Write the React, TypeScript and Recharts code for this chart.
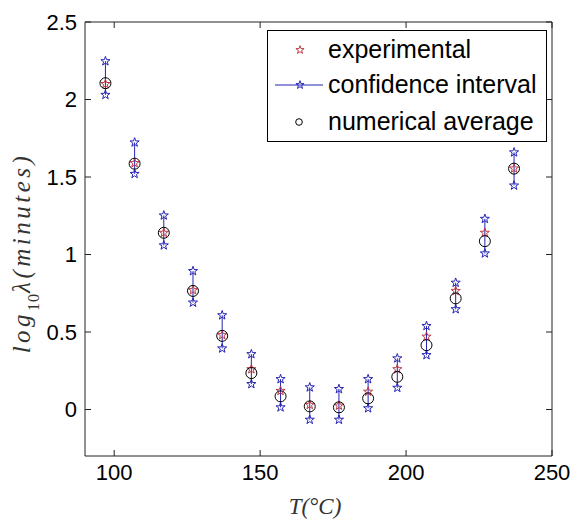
import React from 'react';
import { ComposedChart, Scatter, XAxis, YAxis, ErrorBar, Legend, Label } from 'recharts';

const temperatures = [97, 107, 117, 127, 137, 147, 157, 167, 177, 187, 197, 207, 217, 227, 237];
const experimental = [2.1, 1.59, 1.14, 0.77, 0.48, 0.26, 0.12, 0.03, 0.025, 0.115, 0.26, 0.47, 0.765, 1.14, 1.555];
const ciUpper = [2.247, 1.723, 1.252, 0.893, 0.608, 0.357, 0.196, 0.143, 0.132, 0.196, 0.33, 0.539, 0.818, 1.23, 1.659];
const ciLower = [2.03, 1.52, 1.059, 0.69, 0.394, 0.164, 0.014, -0.066, -0.066, 0.008, 0.14, 0.351, 0.647, 1.007, 1.445];
const numericalAverage = [2.105, 1.586, 1.14, 0.765, 0.475, 0.235, 0.085, 0.02, 0.014, 0.072, 0.211, 0.415, 0.717, 1.086, 1.554];
const xTicks = [100, 150, 200, 250];
const yTicks = [0, 0.5, 1, 1.5, 2, 2.5];
const legendLabels = ['experimental', 'confidence interval', 'numerical average'];

const BLUE = '#2424b4';
const RED = '#c03a44';
const AXIS = '#222';

const expData = temperatures.map((x, i) => ({
  x,
  y: experimental[i],
  err: [experimental[i] - ciLower[i], ciUpper[i] - experimental[i]],
}));
const upperData = temperatures.map((x, i) => ({ x, y: ciUpper[i] }));
const lowerData = temperatures.map((x, i) => ({ x, y: ciLower[i] }));
const avgData = temperatures.map((x, i) => ({ x, y: numericalAverage[i] }));

function starPath(cx: number, cy: number, R: number, r: number) {
  let d = '';
  for (let i = 0; i < 10; i++) {
    const a = -Math.PI / 2 + (i * Math.PI) / 5;
    const rad = i % 2 === 0 ? R : r;
    d += (i === 0 ? 'M' : 'L') + (cx + rad * Math.cos(a)).toFixed(2) + ',' + (cy + rad * Math.sin(a)).toFixed(2);
  }
  return d + 'Z';
}

const Star = (color: string) => (p: any) =>
  p.cx == null ? <g /> : <path d={starPath(p.cx, p.cy, 4.8, 1.9)} fill="none" stroke={color} strokeWidth={1} />;

const Circ = (p: any) =>
  p.cx == null ? <g /> : <circle cx={p.cx} cy={p.cy} r={5.5} fill="none" stroke="#000" strokeWidth={1} />;

const Invisible = () => <g />;
const NoTick = () => <g />;

const FONT = "'Liberation Sans', Arial, sans-serif";

const LegendBox = () => (
  <svg width={280} height={112} style={{ display: 'block' }}>
    <rect x={0.5} y={0.5} width={279} height={111} fill="#fff" stroke="#000" strokeWidth={1} />
    <path d={starPath(33, 20, 4.3, 1.7)} fill="none" stroke={RED} strokeWidth={1} />
    <text x={61} y={28} fontSize={25} fontFamily={FONT} fill="#000">{legendLabels[0]}</text>
    <line x1={8} y1={55} x2={56} y2={55} stroke={BLUE} strokeWidth={1} />
    <path d={starPath(33, 55, 4.3, 1.7)} fill="none" stroke={BLUE} strokeWidth={1} />
    <text x={61} y={63} fontSize={25} fontFamily={FONT} fill="#000">{legendLabels[1]}</text>
    <circle cx={32} cy={92} r={3.3} fill="none" stroke="#000" strokeWidth={1} />
    <text x={61} y={100} fontSize={25} fontFamily={FONT} fill="#000">{legendLabels[2]}</text>
  </svg>
);

const YLabel = () => (
  <text
    transform="translate(30,253) rotate(-90)"
    textAnchor="middle"
    fontSize={25}
    fontStyle="italic"
    fontFamily="'Liberation Serif', 'DejaVu Serif', serif"
    fill="#333"
    letterSpacing={3.5}
  >
    <tspan>log</tspan>
    <tspan fontSize={16} fontStyle="normal" baselineShift="sub" letterSpacing={1}>10</tspan>
    <tspan>λ(minutes)</tspan>
  </text>
);

const XLabel = () => (
  <text
    x={315}
    y={514}
    textAnchor="middle"
    fontSize={23}
    fontStyle="italic"
    fontFamily="'Liberation Serif', 'DejaVu Serif', serif"
    fill="#333"
  >
    T(°C)
  </text>
);

const tickStyle = { fontSize: 22, fill: '#000', fontFamily: FONT };

export default function App() {
  return (
    <div style={{ position: 'absolute', left: 0, top: 0, width: 575, height: 520, background: '#fff' }}>
      <ComposedChart width={575} height={520} margin={{ top: 21, right: 22, bottom: 0, left: 0 }}>
        <XAxis
          dataKey="x"
          type="number"
          domain={[90, 250]}
          ticks={xTicks}
          allowDataOverflow
          height={64}
          tickSize={-6}
          tickMargin={14}
          tick={tickStyle}
          axisLine={{ stroke: AXIS }}
          tickLine={{ stroke: AXIS }}
        >
          <Label content={XLabel} />
        </XAxis>
        <XAxis
          xAxisId="top"
          dataKey="x"
          orientation="top"
          type="number"
          domain={[90, 250]}
          ticks={xTicks}
          allowDataOverflow
          height={1}
          tickSize={-6}
          tick={NoTick}
          axisLine={{ stroke: AXIS }}
          tickLine={{ stroke: AXIS }}
        />
        <YAxis
          type="number"
          domain={[-0.3, 2.5]}
          ticks={yTicks}
          allowDataOverflow
          width={85}
          tickSize={-6}
          tickMargin={14}
          tick={tickStyle}
          axisLine={{ stroke: AXIS }}
          tickLine={{ stroke: AXIS }}
        >
          <Label content={YLabel} />
        </YAxis>
        <YAxis
          yAxisId="right"
          orientation="right"
          type="number"
          domain={[-0.3, 2.5]}
          ticks={yTicks}
          allowDataOverflow
          width={1}
          tickSize={-6}
          tick={NoTick}
          axisLine={{ stroke: AXIS }}
          tickLine={{ stroke: AXIS }}
        />
        <Scatter
          name="frame"
          xAxisId="top"
          yAxisId="right"
          data={avgData}
          dataKey="y"
          shape={Invisible}
          isAnimationActive={false}
          legendType="none"
        />
        <Scatter name="upper" data={upperData} dataKey="y" shape={Star(BLUE)} isAnimationActive={false} legendType="none" />
        <Scatter name="lower" data={lowerData} dataKey="y" shape={Star(BLUE)} isAnimationActive={false} legendType="none" />
        <Scatter name={legendLabels[0]} data={expData} dataKey="y" shape={Star(RED)} isAnimationActive={false}>
          <ErrorBar dataKey="err" direction="y" width={0} stroke={BLUE} strokeWidth={1} isAnimationActive={false} />
        </Scatter>
        <Scatter name={legendLabels[2]} data={avgData} dataKey="y" shape={Circ} isAnimationActive={false} />
        <Legend
          layout="vertical"
          align="center"
          verticalAlign="middle"
          content={LegendBox}
          wrapperStyle={{ position: 'absolute', left: 267, top: 30, width: 280, height: 112 }}
        />
      </ComposedChart>
    </div>
  );
}
